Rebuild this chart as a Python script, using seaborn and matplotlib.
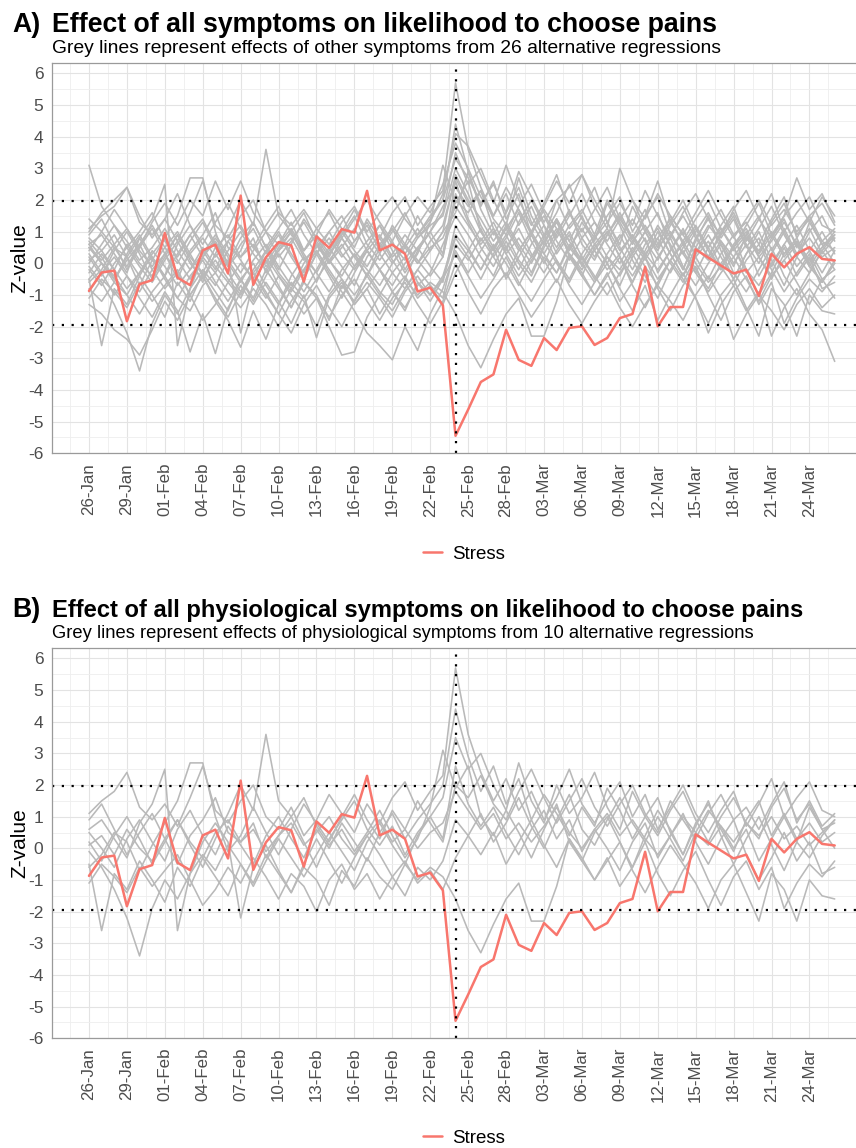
import numpy as np
import pandas as pd
import seaborn as sns
import matplotlib.pyplot as plt
from matplotlib.ticker import MultipleLocator

# daily series, 26-Jan to 26-Mar
dates = pd.date_range("2021-01-26", periods=60, freq="D")

stress = [-0.87, -0.29, -0.23, -1.83, -0.66, -0.53, 0.96, -0.45, -0.69, 0.41,
          0.59, -0.32, 2.14, -0.68, 0.19, 0.67, 0.57, -0.58, 0.85, 0.49,
          1.08, 0.97, 2.29, 0.41, 0.59, 0.30, -0.89, -0.77, -1.33, -5.45,
          -4.62, -3.75, -3.51, -2.10, -3.05, -3.24, -2.36, -2.74, -2.04, -1.99,
          -2.58, -2.36, -1.73, -1.60, -0.11, -1.99, -1.38, -1.38, 0.44, 0.18,
          -0.07, -0.32, -0.20, -1.03, 0.30, -0.13, 0.30, 0.51, 0.14, 0.09]

# physiological symptoms (shown in both panels)
phys_01 = [1.1, 1.5, 1.8, 2.4, 1.3, 0.9, 1.4, 0.7, 1.6, 2.6,
           1.2, 0.8, 1.5, 2.0, 1.0, 0.6, 1.3, 0.4, 0.9, 1.7,
           1.1, 0.5, 1.4, 0.8, 1.6, 2.1, 1.2, 1.8, 2.3, 5.7,
           3.6, 2.4, 1.5, 2.2, 1.2, 1.8, 0.9, 1.6, 2.5, 1.4,
           0.8, 1.5, 2.1, 1.0, 1.7, 0.6, 1.3, 2.0, 1.1, 0.5,
           1.2, 1.8, 0.7, 1.4, 2.2, 1.0, 1.6, 2.1, 1.2, 1.0]
phys_02 = [0.5, 0.0, -0.6, 0.3, 0.9, 0.2, -0.4, 0.6, 1.2, 0.4,
           -0.2, 0.7, 0.1, -0.5, 0.4, 1.0, 0.3, -0.3, 0.6, 0.0,
           0.8, 0.2, -0.4, 0.5, 1.1, 0.3, 0.9, 1.4, 2.0, 4.4,
           2.9, 1.8, 2.6, 1.4, 2.2, 0.9, 1.7, 1.1, 0.4, 1.3,
           0.7, 1.9, 1.2, 0.3, 1.0, 1.6, 0.5, -0.2, 0.8, 1.4,
           0.6, -0.1, 0.9, 1.5, 0.4, 1.1, 0.3, 0.8, 0.2, 0.5]
phys_03 = [0.9, 1.4, 0.6, -0.2, 0.5, 1.1, 0.3, -0.5, 0.4, 0.9,
           1.6, 0.5, 0.2, 0.8, -0.3, 0.4, 1.0, 0.2, -0.6, 0.3,
           0.9, 1.5, 0.6, 0.1, 0.7, -0.2, 0.5, 1.0, 1.6, 3.5,
           2.5, 3.0, 2.0, 1.2, 2.7, 1.5, 0.8, 2.0, 1.1, 1.6,
           2.4, 1.3, 0.6, 1.8, 1.0, 0.4, 1.2, 1.8, 0.9, 0.2,
           1.0, 1.6, 0.8, 0.3, 1.3, 1.9, 0.9, 1.4, 0.6, 0.8]
phys_04 = [0.2, -0.4, 0.4, 1.0, 0.3, -0.5, 0.2, 0.9, 0.1, -0.6,
           0.3, 1.1, 2.0, 1.2, 3.6, 1.5, 1.0, 1.6, 0.7, 0.1,
           0.6, -0.1, 0.5, 1.2, 0.4, -0.3, 0.3, 1.3, 3.1, 1.9,
           2.6, 1.0, 0.4, 1.2, 0.5, -0.3, 0.6, 1.4, 0.2, -0.4,
           0.5, 1.0, 0.2, -0.6, 0.4, 1.2, 0.6, -0.2, 0.7, 1.5,
           0.4, -0.5, 0.3, 1.0, 0.1, -0.7, 0.2, 1.3, 0.6, 0.0]
phys_05 = [-0.5, -2.6, -0.8, -1.3, -0.4, -1.0, -1.7, -0.6, -1.2, -0.3,
           -0.9, -1.5, -0.5, -1.1, -0.2, -0.8, -1.4, -0.6, -1.0, -1.8,
           -0.7, -1.2, -0.3, -0.9, -1.3, -0.5, -1.0, -0.6, -0.9, -1.6,
           -2.6, -3.3, -2.4, -1.6, -1.1, -2.3, -2.3, -1.2, 0.3, -0.4,
           -1.0, -0.3, -1.2, -0.6, 0.2, -0.8, -1.5, -0.7, -0.1, -1.0,
           -1.8, -0.9, -0.4, -1.3, -0.6, -1.9, -1.1, -0.5, -0.9, -0.4]
phys_06 = [-0.1, -0.6, -1.3, -2.2, -3.4, -1.9, -1.0, -1.6, -0.8, -0.2,
           -0.7, 0.1, -0.5, -1.2, -0.4, 0.3, -0.3, -0.9, -0.2, 0.5,
           -0.1, -0.7, 0.2, 0.8, 0.1, -0.5, 0.4, 1.0, 0.3, 2.6,
           1.4, 0.7, 1.3, 0.5, -0.2, 0.6, 1.2, 0.3, 0.9, -0.1,
           0.6, 0.0, -0.7, 0.2, 0.8, -0.3, 0.4, 1.1, 0.2, -0.5,
           0.3, 0.9, -0.2, -1.0, -0.3, 0.5, -0.4, 0.2, -0.8, -0.6]
phys_07 = [0.6, 0.9, 0.3, -0.3, 0.8, 1.4, 2.5, -2.6, -0.8, 0.2,
           0.8, 0.2, -2.2, -0.6, 0.1, -0.7, -1.4, -0.5, 0.3, -0.4,
           -1.1, -0.3, 0.4, -0.2, -0.9, -1.5, -0.6, -1.0, -0.4, 0.9,
           0.4, 1.1, 0.2, 0.8, 1.6, 0.7, 0.0, 0.9, 1.7, 0.6,
           0.1, 0.9, 1.6, 0.8, 0.2, 1.0, 0.3, -0.4, 0.5, 1.2,
           0.7, 0.0, 0.6, -0.4, 0.3, 1.0, 0.2, -0.3, 0.4, 0.9]
phys_08 = [-0.6, -0.2, 0.5, 0.2, -0.7, 0.1, 0.8, 1.5, 2.7, 2.7,
           1.0, -0.1, 0.4, 1.3, 0.5, -0.2, 0.6, 1.4, 0.8, 0.2,
           1.0, 1.7, 0.9, 0.3, 1.2, 0.6, 1.5, 0.8, 0.2, 2.0,
           1.6, 2.3, 1.4, 0.9, 1.8, 2.5, 1.6, 0.8, 1.5, 2.2,
           1.3, 0.7, 1.4, 2.0, 1.1, 0.5, 1.5, 0.9, 0.3, 1.1,
           1.7, 0.9, 1.3, 0.6, 1.4, 2.1, 0.8, 1.5, 0.7, 1.1]
phys_09 = [-1.1, -0.5, -0.9, -1.4, -0.6, -1.2, -0.7, -0.2, -1.0, -1.8,
           -1.3, -0.6, -1.1, -0.3, -0.9, -1.6, -0.8, -1.2, -2.0, -1.0,
           -0.5, -1.3, -0.8, -1.6, -0.9, -0.4, -1.1, -0.7, -1.3, -0.3,
           0.4, -0.2, 0.5, -0.5, 0.2, 0.9, 0.1, -0.6, 0.3, -0.3,
           -1.0, -0.4, 0.2, -0.7, -1.4, -0.6, 0.1, -0.5, -1.1, -1.9,
           -1.0, -0.5, -1.4, -2.3, -0.8, -1.3, -2.3, -1.0, -1.5, -1.6]
phys_10 = [0.1, 0.4, -0.2, 0.6, 0.0, -0.4, 0.3, 0.9, 0.2, -0.3,
           0.5, 0.9, 0.2, 0.6, -0.1, 0.4, 0.8, 0.1, 0.5, 1.0,
           0.3, -0.2, 0.4, 0.9, 0.2, 0.6, 0.0, 0.5, 0.8, 1.8,
           1.2, 0.6, 1.1, 0.3, 0.8, 0.2, 0.7, 1.3, 0.5, 0.0,
           0.6, 1.1, 0.4, 0.9, 0.3, -0.2, 0.4, 1.0, 0.5, 0.1,
           0.7, 0.2, 0.8, 0.4, 1.0, 0.3, 0.7, 0.1, 0.5, 0.9]

# other symptoms (panel A only)
other_01 = [3.1, 1.8, 1.2, 0.5, 1.0, 1.6, 0.7, 0.2, 0.9, 1.4,
            0.6, 0.0, 0.8, 1.3, 0.5, 1.1, 1.7, 0.9, 0.3, 1.0,
            1.5, 0.7, 1.2, 0.4, 1.0, 1.6, 0.8, 1.3, 2.2, 4.1,
            3.7, 2.8, 1.9, 3.1, 2.0, 1.2, 1.9, 2.8, 1.6, 1.0,
            1.7, 2.4, 1.4, 0.8, 1.5, 2.6, 1.3, 0.7, 1.4, 2.0,
            1.1, 0.5, 1.2, 1.9, 0.9, 1.5, 2.7, 1.7, 2.2, 1.3]
other_02 = [-1.3, -1.6, -2.1, -2.4, -2.9, -2.1, -1.2, -1.8, -1.0, -0.4,
            -1.1, -1.7, -0.9, -0.3, -1.0, -1.6, -2.2, -1.3, -0.7, -1.4,
            -2.0, -1.2, -0.6, -1.1, -1.7, -0.9, -0.4, -1.0, -0.5, 0.3,
            -0.4, -1.1, -0.5, 0.2, -0.6, -1.2, -0.5, 0.1, -0.7, -1.3,
            -0.6, 0.0, -0.8, -1.5, -0.7, -1.8, -1.0, -0.3, -1.1, -2.2,
            -1.3, -0.7, -1.5, -0.9, -2.3, -1.4, -0.8, -1.6, -2.1, -3.1]
other_03 = [0.3, -0.3, -1.0, -0.4, -1.1, -1.7, -0.9, -1.5, -2.8, -1.6,
            -2.85, -1.4, -0.7, -1.3, -0.6, -1.2, -1.9, -1.0, -2.35, -1.1,
            -0.6, -1.3, -0.8, -0.2, -0.9, -1.4, -0.7, -0.3, 0.6, 1.5,
            0.9, 0.2, -0.4, 0.5, 1.1, 0.3, -0.3, 0.4, 1.0, 0.2,
            -0.5, 0.3, 0.9, 0.1, -0.6, 0.2, 0.8, -0.1, -0.7, 0.0,
            0.6, -0.3, -0.9, -0.2, 0.5, -0.4, -1.0, -0.3, 0.4, -0.2]
other_04 = [0.7, 0.2, -0.5, 0.1, 0.6, -0.2, -0.8, -0.3, 0.3, -0.4,
            -1.2, -1.8, -2.65, -1.5, -2.4, -1.3, -0.6, -1.1, -0.5, 0.1,
            -0.5, -1.0, -0.4, 0.3, -0.3, -0.8, -0.2, 0.4, 1.0, 2.8,
            2.0, 1.4, 0.7, 1.3, 0.6, 0.0, 0.8, 1.4, 0.7, 0.1,
            0.8, 1.3, 0.5, -0.2, 0.6, 1.1, 0.3, -0.4, 0.3, 0.9,
            0.2, -0.5, 0.3, 0.8, -0.1, 0.6, 1.2, 0.4, -0.3, 0.4]
other_05 = [1.4, 1.0, 1.7, 1.1, 0.5, 1.3, 1.9, 1.2, 2.0, 1.5,
            2.6, 1.7, 2.6, 1.6, 1.0, 1.6, 1.2, 1.7, 1.1, 0.6,
            1.3, 1.8, 1.0, 1.6, 2.1, 1.4, 0.9, 1.5, 2.0, 3.3,
            2.7, 1.9, 2.5, 1.6, 2.9, 2.1, 1.3, 2.0, 2.4, 2.8,
            1.8, 1.1, 3.0, 2.0, 1.4, 2.2, 1.5, 0.9, 1.6, 2.3,
            1.5, 0.8, 1.4, 2.0, 1.2, 1.7, 1.0, 1.5, 1.9, 1.2]
other_06 = [-0.3, 0.3, -0.2, -0.8, -0.3, 0.4, -0.1, -0.7, -0.2, 0.5,
            -0.1, -0.6, 0.0, -0.5, -1.1, -0.4, -1.0, -1.6, -1.1, -2.0,
            -2.9, -2.8, -1.7, -1.0, -1.5, -0.8, -0.2, -0.7, -1.1, 0.6,
            0.1, 0.8, 0.2, -0.4, 0.4, 1.0, 0.3, -0.3, 0.5, 1.1,
            0.4, -0.2, 0.3, 0.9, 0.2, -0.5, 0.1, 0.7, 0.0, -0.6,
            -0.1, 0.5, -0.2, -0.7, 0.0, 0.6, -0.1, 0.4, 1.0, 0.3]
other_07 = [0.8, 0.4, 0.9, 0.2, -0.4, 0.3, 0.8, 0.1, -0.5, 0.2,
            0.7, 0.0, -0.6, 0.1, 0.6, -0.1, -0.7, -0.2, 0.4, -0.3,
            -0.9, -1.5, -2.2, -2.6, -3.05, -2.0, -2.75, -1.6, -0.8, 0.4,
            -0.3, 0.4, 1.0, 0.3, -0.4, 0.2, 0.9, 0.1, -0.5, 0.3,
            0.9, 0.2, -0.4, 0.4, 1.0, 0.3, -0.3, 0.5, 1.1, 0.4,
            -0.2, 0.5, 1.0, 0.2, -0.5, 0.3, 0.8, 0.0, -0.6, 0.1]
other_08 = [1.0, 1.6, 2.0, 2.4, 1.5, 0.8, 1.4, 2.2, 1.2, 0.6,
            1.3, 1.9, 1.1, 0.5, 1.2, 1.8, 0.9, 0.4, 1.1, 1.6,
            0.8, 1.4, 2.0, 1.3, 0.7, 1.5, 2.1, 1.6, 2.5, 3.8,
            3.0, 2.1, 1.5, 2.4, 1.7, 1.0, 1.8, 2.6, 1.9, 2.8,
            2.0, 1.3, 1.9, 1.2, 2.3, 1.5, 0.8, 1.6, 2.2, 1.4,
            0.9, 1.7, 2.3, 1.4, 0.8, 1.5, 2.0, 1.3, 2.1, 1.5]
other_09 = [-0.2, -0.7, 0.0, 0.5, -0.1, -0.6, 0.1, 0.7, 0.0, -0.5,
            0.3, -0.3, -0.9, -0.2, 0.4, -0.3, -0.8, 0.0, 0.6, 0.1,
            -0.4, 0.3, -0.2, -0.7, 0.0, 0.6, 0.1, -0.4, 0.2, 2.2,
            1.3, 0.5, -0.1, 0.7, 0.0, -0.6, 0.2, -0.3, 0.6, 0.0,
            -0.6, 0.2, -0.2, 0.5, -0.1, -0.7, 0.1, 0.6, -0.2, -0.8,
            0.0, 0.5, -0.3, 0.2, -0.4, 0.1, 0.6, -0.1, -0.6, 0.0]
other_10 = [0.5, 0.1, 0.6, 1.1, 0.4, -0.1, 0.5, 1.0, 0.3, 0.8,
            0.2, 0.7, 1.2, 0.5, 0.0, 0.6, 1.1, 0.4, 0.9, 0.3,
            0.8, 0.2, 0.7, 1.2, 0.6, 0.1, 0.8, 1.2, 1.5, 3.0,
            2.2, 1.2, 0.5, 1.1, 0.4, 1.0, 1.5, 0.7, 0.1, 0.8,
            1.3, 0.6, 0.0, 0.7, 1.2, 0.5, 1.0, 0.3, -0.3, 0.5,
            1.1, 0.4, 0.9, 0.2, 0.7, 1.3, 0.6, 0.0, 0.7, 0.4]
other_11 = [-0.8, -1.2, -0.6, -1.0, -1.6, -0.9, -0.4, -1.1, -1.5, -0.7,
            -0.3, -0.9, -1.4, -0.8, -1.3, -2.0, -1.2, -0.6, -1.1, -1.7,
            -1.0, -0.5, -1.2, -1.8, -1.1, -0.6, -1.3, -1.9, -1.2, 0.0,
            -0.9, -1.6, -0.8, -0.3, -1.0, -1.7, -1.1, -0.5, -1.3, -1.9,
            -1.2, -0.6, -1.4, -2.0, -1.3, -0.7, -1.2, -1.8, -1.0, -0.4,
            -1.1, -2.4, -1.6, -1.0, -1.5, -2.1, -1.3, -0.8, -1.4, -1.0]
other_12 = [0.0, 0.6, 1.2, 0.7, 0.1, 0.5, 1.1, 0.4, -0.2, 0.3,
            0.9, 0.3, -0.3, 0.4, 1.0, 0.2, 0.7, 1.3, 0.6, 0.0,
            0.5, 1.1, 0.4, -0.2, 0.3, 0.9, 0.4, 1.0, 1.8, 2.4,
            1.8, 2.3, 1.1, 0.4, 1.3, 2.0, 1.2, 0.5, 1.2, 1.7,
            0.9, 2.0, 1.3, 0.6, 1.5, 2.1, 0.9, 0.3, 1.0, 1.6,
            0.8, 1.4, 0.5, 1.1, 1.8, 0.9, 0.2, 1.0, 1.5, 0.7]
other_13 = [-0.5, 0.0, -0.4, -1.0, -0.3, 0.2, -0.5, -1.1, -0.4, 0.1,
            -0.6, -1.2, -0.5, 0.0, -0.7, -1.3, -0.4, 0.2, -0.3, -0.9,
            -0.2, 0.3, -0.4, -1.0, -0.3, 0.2, -0.6, -1.2, -0.5, 0.8,
            0.2, -0.5, 0.3, 0.9, 0.1, -0.4, 0.5, 1.1, 0.3, -0.2,
            0.4, 1.0, 0.2, -0.4, 0.3, 0.8, 0.0, -0.6, 0.2, 0.7,
            -0.1, -0.7, 0.1, 0.6, -0.2, -0.9, -0.3, 0.3, -0.5, -1.1]
other_14 = [0.4, 1.0, 0.5, -0.1, 0.6, 1.2, 0.5, 0.0, 0.7, 1.3,
            0.5, -0.1, 0.6, 1.1, 0.3, 0.9, 0.2, -0.4, 0.3, 0.8,
            0.2, 0.7, 1.3, 0.6, 0.0, 0.5, 1.1, 0.4, 1.0, 1.6,
            2.9, 1.7, 0.9, 1.6, 2.4, 1.3, 0.6, 1.4, 0.7, 1.5,
            0.6, 0.0, 0.8, 1.4, 0.7, 0.1, 0.9, 1.5, 0.8, 0.2,
            0.9, 1.5, 0.6, 0.0, 0.8, 1.4, 0.5, 1.1, 0.3, 0.8]
other_15 = [-0.9, -0.3, 0.2, -0.4, -0.9, -0.2, 0.3, -0.3, -1.0, -0.4,
            0.1, -0.5, -1.0, -0.3, 0.2, -0.4, -0.9, -0.2, 0.4, -0.2,
            -0.8, -0.1, 0.4, -0.2, -0.7, 0.0, 0.5, -0.1, -0.6, 1.2,
            0.5, -0.2, 0.6, 0.0, -0.7, 0.1, 0.7, 0.0, -0.6, 0.2,
            -0.4, -1.0, -0.3, 0.3, -0.4, -1.1, -0.2, 0.4, -0.3, -0.9,
            -0.3, 0.2, -0.5, -1.2, -0.4, 0.1, -0.6, -1.3, -0.5, -0.2]
other_16 = [0.6, 0.0, -0.5, 0.2, 0.8, 0.1, -0.4, 0.3, 0.9, 0.2,
            -0.3, 0.4, 1.0, 0.3, -0.2, 0.5, 1.0, 0.3, -0.3, 0.4,
            1.0, 0.4, -0.1, 0.6, 1.1, 0.5, 0.0, 0.7, 1.2, 2.7,
            1.9, 1.0, 0.4, 1.1, 1.7, 0.9, 0.3, 1.0, 1.6, 0.8,
            0.2, 0.9, 1.5, 0.7, 0.1, 0.8, 1.4, 0.6, 1.2, 0.5,
            -0.2, 0.6, 1.1, 0.3, 0.9, 0.2, 0.7, -0.1, 0.5, 1.0]

phys_lines = [phys_01, phys_02, phys_03, phys_04, phys_05,
              phys_06, phys_07, phys_08, phys_09, phys_10]
other_lines = [other_01, other_02, other_03, other_04, other_05, other_06,
               other_07, other_08, other_09, other_10, other_11, other_12,
               other_13, other_14, other_15, other_16]

event_day = pd.Timestamp("2021-02-24")

titles = ["Effect of all symptoms on likelihood to choose pains",
          "Effect of all physiological symptoms on likelihood to choose pains"]
subtitles = ["Grey lines represent effects of other symptoms from 26 alternative regressions",
             "Grey lines represent effects of physiological symptoms from 10 alternative regressions"]
tags = ["A)", "B)"]


def to_long(lines):
    frames = []
    for i, vals in enumerate(lines):
        frames.append(pd.DataFrame({"date": dates, "z": vals, "line": i}))
    return pd.concat(frames, ignore_index=True)


sns.set_theme(style="white")
plt.rcParams["font.family"] = ["Liberation Sans", "DejaVu Sans"]
plt.rcParams["axes.unicode_minus"] = False

W, H = 856, 1148
fig = plt.figure(figsize=(W / 100, H / 100), dpi=100)


def px_x(x):
    return x / W


def px_y(y):
    return 1 - y / H


panel_tops = [62.7, 647.7]
panel_h = 390.5
panel_left = 51.7
panel_right = 872
legend_y = [554, 1138]
title_size = [19.2, 17.1]
sub_size = [13.9, 13.25]

grey_sets = [to_long(phys_lines + other_lines), to_long(phys_lines)]

for k in range(2):
    top = panel_tops[k]
    ax = fig.add_axes([px_x(panel_left), px_y(top + panel_h),
                       (panel_right - panel_left) / W, panel_h / H])

    # grid
    ax.set_axisbelow(True)
    ax.grid(which="major", color="#E3E3E3", lw=0.8)
    ax.grid(which="minor", color="#EEEEEE", lw=0.6)

    sns.lineplot(data=grey_sets[k], x="date", y="z", units="line",
                 estimator=None, color="#B9B9B9", lw=1.15, ax=ax, legend=False)
    sns.lineplot(x=dates, y=stress, color="#F8766D", lw=1.8, ax=ax,
                 label="Stress")

    dot = dict(color="black", lw=1.6, linestyle=(0, (1, 3.4)))
    ax.axhline(1.96, **dot)
    ax.axhline(-1.96, **dot)
    ax.axvline(event_day, **dot)

    ax.set_xlim(dates[0] - pd.Timedelta(days=2.95),
                dates[-1] + pd.Timedelta(days=2.95))
    ax.set_ylim(-6, 6.34)

    ticks = dates[::3]
    ax.set_xticks(ticks)
    ax.set_xticklabels([d.strftime("%d-%b") for d in ticks], rotation=90)
    minor = [dates[0] + pd.Timedelta(hours=36 * (2 * i + 1)) for i in range(-1, 21)]
    ax.set_xticks(minor, minor=True)
    ax.set_yticks(range(-6, 7))
    ax.yaxis.set_minor_locator(MultipleLocator(0.5))

    ax.tick_params(which="major", axis="both", length=4, width=0.8,
                   color="#9A9A9A", labelcolor="#4D4D4D", pad=2)
    ax.tick_params(axis="y", labelsize=12.5)
    ax.tick_params(axis="x", labelsize=12.2, pad=3)
    ax.tick_params(which="minor", length=0)

    for s in ax.spines.values():
        s.set_color("#9A9A9A")
        s.set_linewidth(0.9)

    ax.set_xlabel("")
    ax.set_ylabel("")
    ax.get_legend().remove()

    fig.text(px_x(20), px_y(top + panel_h / 2), "Z-value", rotation=90,
             ha="center", va="center", fontsize=15, color="black")

    fig.text(px_x(12), px_y(top - 30.8), tags[k], fontsize=title_size[0],
             fontweight="bold", va="baseline", ha="left", color="black")
    fig.text(px_x(52), px_y(top - 30.8), titles[k], fontsize=title_size[k],
             fontweight="bold", va="baseline", ha="left", color="black")
    fig.text(px_x(52), px_y(top - 9.4), subtitles[k], fontsize=sub_size[k],
             va="baseline", ha="left", color="black")

    handles, labels = ax.get_legend_handles_labels()
    fig.legend(handles, labels, loc="center",
               bbox_to_anchor=(px_x(464), px_y(legend_y[k])),
               frameon=False, fontsize=13.5, handlelength=1.0,
               handletextpad=0.5, labelcolor="black")

fig.savefig("out.png", dpi=100)
